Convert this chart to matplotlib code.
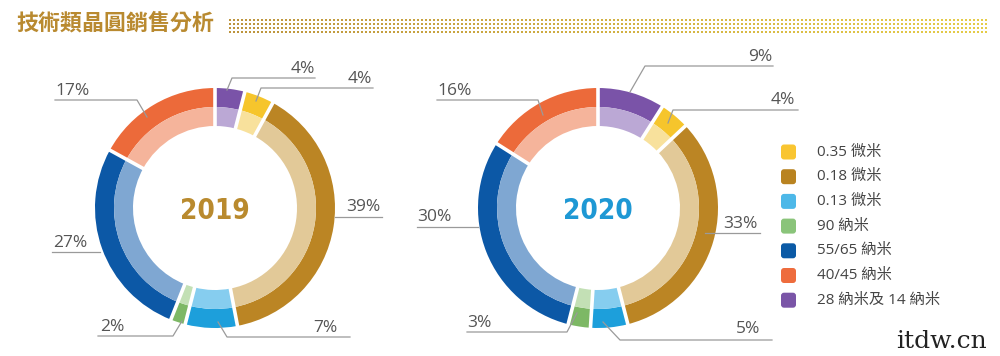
import numpy as np
import matplotlib
matplotlib.use("Agg")
import matplotlib.pyplot as plt
from matplotlib import font_manager as fm
from matplotlib.patches import FancyBboxPatch

# ---------------- data ----------------
title = "技術類晶圓銷售分析"
categories = ["0.35 微米", "0.18 微米", "0.13 微米", "90 納米",
              "55/65 納米", "40/45 納米", "28 納米及 14 納米"]
# donut order clockwise from 12 o'clock
ring_order = ["28 納米及 14 納米", "0.35 微米", "0.18 微米", "0.13 微米",
              "90 納米", "55/65 納米", "40/45 納米"]
years = ["2019", "2020"]
share_2019 = [4, 4, 39, 7, 2, 27, 17]
share_2020 = [9, 4, 33, 5, 3, 30, 16]

dark_colors = {"28 納米及 14 納米": "#7A53A8", "0.35 微米": "#F6C52C",
               "0.18 微米": "#BB8524", "0.13 微米": "#1D9FDB",
               "90 納米": "#7DB865", "55/65 納米": "#0C58A6",
               "40/45 納米": "#EC6A3A"}
light_colors = {"28 納米及 14 納米": "#BBA8D5", "0.35 微米": "#F8E19C",
                "0.18 微米": "#E2C998", "0.13 微米": "#86CDEF",
                "90 納米": "#C3E0B5", "55/65 納米": "#7FA7D2",
                "40/45 納米": "#F5B49B"}
legend_colors = {"0.35 微米": "#F9C531", "0.18 微米": "#B98320",
                 "0.13 微米": "#4DB8E8", "90 納米": "#8AC47A",
                 "55/65 納米": "#0B5AA6", "40/45 納米": "#EE6C3D",
                 "28 納米及 14 納米": "#7A55A7"}

# ---------------- layout ----------------
W, H = 1000, 356
def Y(y):
    return H - y

fig = plt.figure(figsize=(10, 3.56), dpi=100)
fig.patch.set_facecolor("white")
ax = fig.add_axes([0, 0, 1, 1])

centers = {"2019": (215, 208), "2020": (598, 208)}
year_colors = {"2019": "#B98A2E", "2020": "#1E98D4"}
R_OUT, R_MID, R_IN = 120, 101, 82

# leader-line layout per year, in ring order: anchor, elbow, far end, text pos, ha
leaders = {
    "2019": [((227, 90), (232, 78), (315, 78), (315, 69), "right"),
             ((256, 101), (261, 88), (373, 88), (372, 79), "right"),
             ((335, 217), (335, 217), (382, 217), (380, 207), "right"),
             ((218, 322), (227, 337), (350, 337), (337, 328), "right"),
             ((182, 321), (173, 336), (98, 336), (100, 327), "left"),
             ((100, 252), (100, 252), (52, 252), (53, 243), "left"),
             ((147, 117), (137, 100), (55, 100), (55, 91), "left")],
    "2020": [((630, 92), (645, 66), (773, 66), (772, 57), "right"),
             ((668, 123), (673, 110), (798, 110), (795, 100), "right"),
             ((705, 233), (705, 233), (760, 233), (758, 224), "right"),
             ((603, 322), (620, 340), (772, 340), (760, 329), "right"),
             ((577, 313), (567, 332), (467, 332), (467, 323), "left"),
             ((478, 227), (478, 227), (417, 227), (417, 217), "left"),
             ((543, 115), (538, 100), (437, 100), (437, 91), "left")],
}

shares = {"2019": share_2019, "2020": share_2020}
label_font = ["Open Sans", "DejaVu Sans"]

# pick the narrowest bold sans available for the year figures
narrow = None
for f in fm.fontManager.ttflist:
    if f.name in ("Noto Sans", "Open Sans", "Roboto", "Liberation Sans Narrow") \
            and f.stretch in ("extra-condensed", "condensed", 100, 75, 62.5) \
            and f.weight in ("bold", 700):
        narrow = f
        break
if narrow is not None:
    year_kw = dict(family=[narrow.name], fontstretch=narrow.stretch)
else:
    year_kw = dict(family=["DejaVu Sans"], fontstretch="condensed")

for yr in years:
    cx, cy = centers[yr]
    vals = shares[yr]
    ax.pie(vals, colors=[dark_colors[c] for c in ring_order], radius=R_OUT,
           center=(cx, Y(cy)), startangle=90, counterclock=False,
           wedgeprops=dict(width=R_OUT - R_MID, linewidth=0))
    ax.pie(vals, colors=[light_colors[c] for c in ring_order], radius=R_MID,
           center=(cx, Y(cy)), startangle=90, counterclock=False,
           wedgeprops=dict(width=R_MID - R_IN, linewidth=0))
    # white separators at slice boundaries
    cum = np.cumsum([0] + list(vals))[:-1]
    for c in cum:
        th = np.deg2rad(90 - 360 * c / sum(vals))
        ax.plot([cx + (R_IN - 2) * np.cos(th), cx + (R_OUT + 2) * np.cos(th)],
                [Y(cy) + (R_IN - 2) * np.sin(th), Y(cy) + (R_OUT + 2) * np.sin(th)],
                color="white", lw=2.6, solid_capstyle="butt", zorder=3)
    # center year
    ax.text(cx, Y(cy + 3), yr, ha="center", va="center", fontsize=20,
            fontweight="bold", color=year_colors[yr], zorder=4, **year_kw)
    # labels and leaders
    for v, (a, e, f, t, ha) in zip(vals, leaders[yr]):
        ax.plot([a[0], e[0], f[0]], [Y(a[1]), Y(e[1]), Y(f[1])],
                color="#9A9A9A", lw=0.9, zorder=5)
        ax.text(t[0], Y(t[1]), f"{v}%", ha=ha, va="center", fontsize=12.5,
                color="#555555", family=label_font, zorder=5)

# legend
leg_y0, leg_dy = 152, 24.7
for i, cat in enumerate(categories):
    yy = leg_y0 + i * leg_dy
    ax.add_patch(FancyBboxPatch((781, Y(yy + 7.5)), 15, 15,
                                boxstyle="round,pad=0,rounding_size=3",
                                facecolor=legend_colors[cat], edgecolor="none"))
    ax.text(817, Y(yy), cat, ha="left", va="center", fontsize=11,
            color="#444444", family=["Open Sans", "Noto Sans CJK TC"])

# title
ax.text(16, Y(23), title, ha="left", va="center", fontsize=15.8,
        fontweight="bold", color="#B98A30", family=["Noto Sans CJK TC"])
# dotted decoration
xs = np.arange(230, 990, 4.0)
for ry in [20, 24, 28, 32]:
    t = (xs - xs.min()) / (xs.max() - xs.min())
    cols = [(0.74 + 0.16 * k, 0.58 + 0.22 * k, 0.24 + 0.04 * k) for k in t]
    ax.scatter(xs, np.full_like(xs, Y(ry)), s=2.6, c=cols, marker="s",
               linewidths=0)

# watermark
ax.text(896, Y(341), "itdw.cn", ha="left", va="center", fontsize=18,
        color="#222222", family=["DejaVu Serif"])

ax.set_xlim(0, W)
ax.set_ylim(0, H)
ax.set_aspect("equal")
ax.axis("off")
fig.savefig("out.png", dpi=100, facecolor="white")
